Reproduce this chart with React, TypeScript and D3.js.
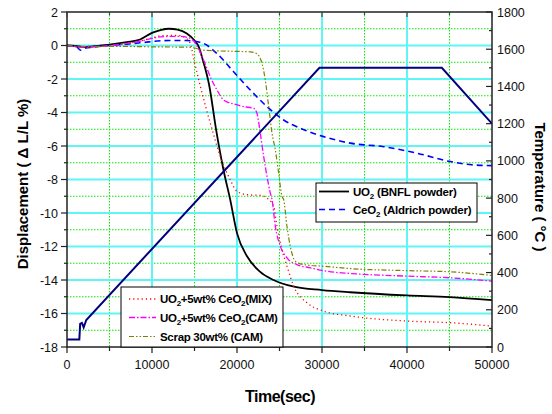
import React from "react";
import * as d3 from "d3";

const W = 552, H = 414;
const X0 = 67, X1 = 492, Y0 = 12, Y1 = 347;

const xTicksMajor = [0, 10000, 20000, 30000, 40000, 50000];
const yTicksMajor = [2, 0, -2, -4, -6, -8, -10, -12, -14, -16, -18];
const tTicksMajor = [0, 200, 400, 600, 800, 1000, 1200, 1400, 1600, 1800];

const bnflT = [0,1000,2000,3000,5000,7000,8600,10000,11000,12000,13000,14100,15000,15500,16000,16700,17600,18400,19200,20000,21200,22700,24300,26700,30000,33300,40000,45000,50000];
const bnflV = [0,-0.02,-0.1,-0.05,0.05,0.2,0.36,0.75,0.92,1.0,0.95,0.72,0.3,-0.08,-0.9,-2.3,-5.2,-7.4,-9.2,-11.2,-12.6,-13.5,-14.0,-14.4,-14.6,-14.73,-14.92,-15.02,-15.2];

const ceoT = [0,1000,1600,2200,3000,5000,7000,9000,11000,12000,14000,15000,16100,17650,19600,21570,23530,25490,27450,30200,33330,37250,41180,45100,47840,50000];
const ceoV = [0,-0.02,-0.28,-0.15,-0.1,0,0.08,0.18,0.28,0.3,0.3,0.25,0.12,-0.48,-1.57,-2.66,-3.65,-4.45,-4.94,-5.44,-5.83,-6.04,-6.43,-6.93,-7.13,-7.17];

const mixT = [0,2000,4000,6000,8000,10000,11000,13000,13800,14500,14900,15700,16860,18040,19210,20000,21200,22750,23530,24310,24700,25290,25880,26670,28240,30200,33330,40000,45100,50000];
const mixV = [0,-0.1,-0.05,0.05,0.2,0.45,0.58,0.6,0.5,0.12,-0.77,-2.46,-4.64,-6.63,-8.02,-8.71,-8.91,-8.95,-9.11,-9.6,-10.8,-12.18,-13.18,-14.37,-15.36,-15.86,-16.15,-16.45,-16.55,-16.75];

const camT = [0,2000,4000,6000,8000,10000,11000,13000,14200,14900,16080,16860,17650,18430,19610,20780,21960,22350,22740,23140,23530,23920,24120,24510,25100,25880,27060,28630,30590,33330,40000,45100,50000];
const camV = [0,-0.1,-0.05,0.05,0.2,0.42,0.52,0.55,0.48,0.27,-0.88,-1.87,-2.66,-3.26,-3.49,-3.65,-3.75,-4.05,-5.24,-6.63,-7.82,-8.81,-9.2,-10.8,-11.99,-12.68,-13.08,-13.27,-13.48,-13.61,-13.77,-13.87,-14.07];

const scrapT = [0,2000,4000,6000,10000,14000,15000,16080,17650,21570,22350,22940,23330,23730,24120,24510,24900,25290,25490,25880,26270,26860,27840,30200,33330,40000,45100,50000];
const scrapV = [0,-0.05,-0.05,-0.05,-0.08,-0.1,-0.15,-0.28,-0.32,-0.38,-0.5,-1.07,-2.07,-3.65,-5.24,-6.23,-7.62,-9.01,-9.2,-10.8,-11.99,-12.88,-13.08,-13.18,-13.32,-13.44,-13.51,-13.73];

const tempT = [0,1450,1550,1750,1960,2270,29700,44100,50000];
const tempV = [40,40,125,130,105,145,1500,1500,1200];

const x = d3.scaleLinear().domain([0, 50000]).range([X0, X1]);
const y = d3.scaleLinear().domain([-18, 2]).range([Y1, Y0]);
const yT = d3.scaleLinear().domain([0, 1800]).range([Y1, Y0]);

const FONT = "'Liberation Sans', Arial, sans-serif";

function pathOf(ts: number[], vs: number[], ys: d3.ScaleLinear<number, number>, curve: d3.CurveFactory) {
  const pts: [number, number][] = ts.map((t, i) => [t, vs[i]]);
  return d3.line<[number, number]>().x(d => x(d[0])).y(d => ys(d[1])).curve(curve)(pts) || "";
}

const series = [
  { t: bnflT, v: bnflV, color: "#000000", dash: "", w: 1.8 },
  { t: ceoT, v: ceoV, color: "#0000ff", dash: "6,4", w: 1.6 },
  { t: mixT, v: mixV, color: "#ff0000", dash: "1.2,3", w: 1.3 },
  { t: camT, v: camV, color: "#ff00ff", dash: "6,2,1.5,2", w: 1.3 },
  { t: scrapT, v: scrapV, color: "#808000", dash: "5,2,1.5,2,1.5,2", w: 1.2 },
];

function Sub({ label, sub, rest }: { label: string; sub: string; rest: string }) {
  return (
    <>
      {label}
      <tspan fontSize={8} dy={3}>{sub}</tspan>
      <tspan dy={-3}>{rest}</tspan>
    </>
  );
}

export default function App() {
  const xMinor = d3.range(0, 50001, 5000);
  const yMinor = d3.range(-18, 2.01, 1);
  const tMinor = d3.range(0, 1801, 100);
  return (
    <svg width={W} height={H} style={{ position: "absolute", left: 0, top: 0, background: "#fff" }} fontFamily={FONT}>
      <defs>
        <clipPath id="plot">
          <rect x={X0} y={Y0} width={X1 - X0} height={Y1 - Y0} />
        </clipPath>
      </defs>
      {xMinor.filter(v => v % 10000 !== 0).map(v => (
        <line key={"gx" + v} x1={x(v)} x2={x(v)} y1={Y0} y2={Y1} stroke="#00ee00" strokeWidth={1} strokeDasharray="1.5,1.5" />
      ))}
      {yMinor.filter(v => Math.abs(v) % 2 === 1).map(v => (
        <line key={"gy" + v} x1={X0} x2={X1} y1={y(v)} y2={y(v)} stroke="#00ee00" strokeWidth={1} strokeDasharray="1.5,1.5" />
      ))}
      {xTicksMajor.slice(1, -1).map(v => (
        <line key={"Gx" + v} x1={x(v)} x2={x(v)} y1={Y0} y2={Y1} stroke="#5ff5f5" strokeWidth={2} />
      ))}
      {yTicksMajor.slice(1, -1).map(v => (
        <line key={"Gy" + v} x1={X0} x2={X1} y1={y(v)} y2={y(v)} stroke="#5ff5f5" strokeWidth={2} />
      ))}
      <g clipPath="url(#plot)">
        {series.map((s, i) => (
          <path key={i} d={pathOf(s.t, s.v, y, d3.curveMonotoneX)} fill="none" stroke={s.color} strokeWidth={s.w} strokeDasharray={s.dash} />
        ))}
        <path d={pathOf(tempT, tempV, yT, d3.curveLinear)} fill="none" stroke="#000080" strokeWidth={2} />
      </g>
      <rect x={X0} y={Y0} width={X1 - X0} height={Y1 - Y0} fill="none" stroke="#222" strokeWidth={1.5} />
      {xMinor.map(v => (
        <line key={"bt" + v} x1={x(v)} x2={x(v)} y1={Y1} y2={Y1 + (v % 10000 === 0 ? 6 : 4)} stroke="#222" strokeWidth={1.2} />
      ))}
      {xMinor.map(v => (
        <line key={"tt" + v} x1={x(v)} x2={x(v)} y1={Y0} y2={Y0 + (v % 10000 === 0 ? 5 : 3)} stroke="#444" strokeWidth={1.2} />
      ))}
      {xTicksMajor.map(v => (
        <text key={"bl" + v} x={x(v)} y={Y1 + 22} textAnchor="middle" fontSize={12.5} fill="#111">{v}</text>
      ))}
      {yMinor.map(v => (
        <line key={"lt" + v} x1={X0} x2={X0 - (Math.abs(v) % 2 === 0 ? 6 : 3)} y1={y(v)} y2={y(v)} stroke="#222" strokeWidth={1.2} />
      ))}
      {yTicksMajor.map(v => (
        <text key={"ll" + v} x={X0 - 9} y={y(v) + 4.5} textAnchor="end" fontSize={12.5} fill="#111">{v}</text>
      ))}
      {tMinor.map(v => (
        <line key={"rt" + v} x1={X1} x2={X1 - (v % 200 === 0 ? 6 : 3)} y1={yT(v)} y2={yT(v)} stroke="#222" strokeWidth={1.2} />
      ))}
      {tTicksMajor.map(v => (
        <text key={"rl" + v} x={X1 + 5} y={yT(v) + 4.5} textAnchor="start" fontSize={12.5} fill="#111">{v}</text>
      ))}
      <text x={280} y={402} textAnchor="middle" fontSize={16} fontWeight="bold" letterSpacing={-0.5}>Time(sec)</text>
      <text transform={`translate(28,184) rotate(-90)`} textAnchor="middle" fontSize={15} fontWeight="bold">Displacement ( Δ L/L %)</text>
      <text transform={`translate(535,187) rotate(90)`} textAnchor="middle" fontSize={15} fontWeight="bold">Temperature ( °C )</text>
      <rect x={316} y={183} width={161} height={39} fill="#fff" stroke="#000" strokeWidth={1} />
      <line x1={319} x2={349} y1={191.5} y2={191.5} stroke="#000" strokeWidth={1.8} />
      <text x={353} y={196} fontSize={11.5} fontWeight="bold" letterSpacing={-0.2}><Sub label="UO" sub="2" rest=" (BNFL powder)" /></text>
      <line x1={319} x2={349} y1={209.5} y2={209.5} stroke="#0000ff" strokeWidth={1.6} strokeDasharray="6,4" />
      <text x={353} y={214} fontSize={11.5} fontWeight="bold" letterSpacing={-0.2}><Sub label="CeO" sub="2" rest=" (Aldrich powder)" /></text>
      <rect x={121} y={287} width={162} height={60} fill="#fff" stroke="#000" strokeWidth={1} />
      <line x1={129} x2={156} y1={299} y2={299} stroke="#ff0000" strokeWidth={1.3} strokeDasharray="1.2,3" />
      <text x={160} y={303} fontSize={11.5} fontWeight="bold" letterSpacing={-0.3}><Sub label="UO" sub="2" rest="+5wt% CeO" /><tspan fontSize={8} dy={3}>2</tspan><tspan dy={-3}>(MIX)</tspan></text>
      <line x1={129} x2={156} y1={317.5} y2={317.5} stroke="#ff00ff" strokeWidth={1.3} strokeDasharray="6,2,1.5,2" />
      <text x={160} y={322} fontSize={11.5} fontWeight="bold" letterSpacing={-0.3}><Sub label="UO" sub="2" rest="+5wt% CeO" /><tspan fontSize={8} dy={3}>2</tspan><tspan dy={-3}>(CAM)</tspan></text>
      <line x1={129} x2={156} y1={336.5} y2={336.5} stroke="#808000" strokeWidth={1.2} strokeDasharray="5,2,1.5,2,1.5,2" />
      <text x={160} y={341} fontSize={11.5} fontWeight="bold" letterSpacing={-0.3}>Scrap 30wt% (CAM)</text>
    </svg>
  );
}
